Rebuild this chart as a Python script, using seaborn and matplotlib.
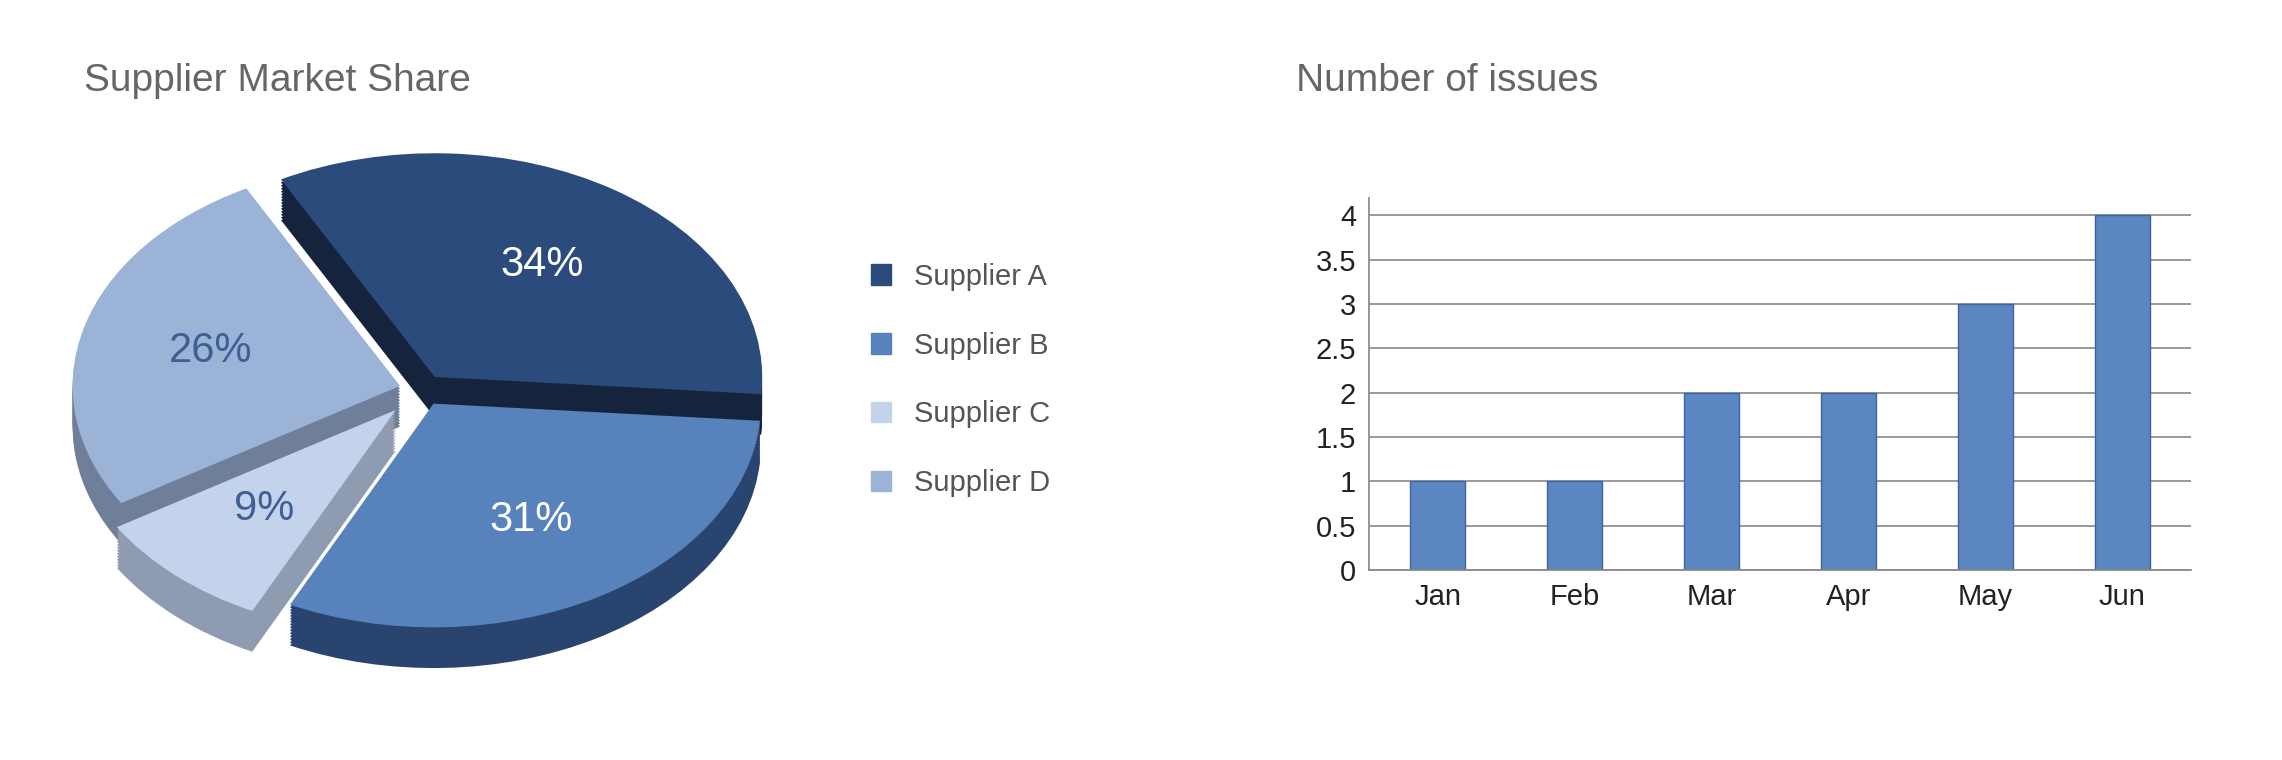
import numpy as np
import pandas as pd
import matplotlib
matplotlib.use("Agg")
import matplotlib.pyplot as plt
import seaborn as sns

suppliers = ["Supplier A", "Supplier B", "Supplier C", "Supplier D"]
shares = [34, 31, 9, 26]
months = ["Jan", "Feb", "Mar", "Apr", "May", "Jun"]
issues = [1, 1, 2, 2, 3, 4]

sns.set_theme(style="white")
plt.rcParams['font.family'] = ['Liberation Sans', 'DejaVu Sans']

top_cols = ["#2b4b7c", "#5882bb", "#c4d3ec", "#9cb3d8"]
side_cols = ["#15233d", "#2a4470", "#8e9bb0", "#6f7f99"]
label_cols = ["white", "white", "#3e5f94", "#3e5f94"]
explode = [0.07, 0.07, 0.12, 0.07]

fig = plt.figure(figsize=(22.82, 7.6), dpi=100)
ax1 = fig.add_axes([0.02, 0.06, 0.33, 0.78])
ax2 = fig.add_axes([0.60, 0.25, 0.36, 0.49])

# fake depth: stacked darker pies below the top face
for k in range(14, 0, -1):
    ax1.pie(shares, colors=side_cols, startangle=118, counterclock=False,
            explode=explode, center=(0, -0.013 * k), radius=1.0,
            wedgeprops=dict(linewidth=0))
wedges, texts, autotexts = ax1.pie(
    shares, colors=top_cols, startangle=118, counterclock=False,
    explode=explode, radius=1.0, autopct="%d%%", pctdistance=0.6,
    wedgeprops=dict(linewidth=0), textprops=dict(fontsize=30))
for t, c in zip(autotexts, label_cols):
    t.set_color(c)
ax1.set_aspect("auto")
ax1.set_xlim(-1.15, 1.15)
ax1.set_ylim(-1.45, 1.2)
fig.text(0.037, 0.88, "Supplier Market Share", fontsize=28, color="#666666")

handles = [plt.Rectangle((0, 0), 1, 1, color=c) for c in top_cols]
fig.legend(handles, suppliers, loc="center left", bbox_to_anchor=(0.37, 0.50),
           frameon=False, fontsize=21, labelcolor="#555555", labelspacing=1.4,
           handlelength=0.7, handleheight=0.7)

df = pd.DataFrame({"month": months, "issues": issues})
sns.barplot(data=df, x="month", y="issues", ax=ax2, color="#5b86c2",
            width=0.4, saturation=1, edgecolor="#3d64a0", linewidth=1)
ax2.set_ylim(0, 4.2)
ax2.set_yticks(np.arange(0, 4.01, 0.5))
ax2.set_yticklabels(["0", "0.5", "1", "1.5", "2", "2.5", "3", "3.5", "4"])
ax2.yaxis.grid(True, color="#888888", linewidth=1.2)
ax2.set_axisbelow(True)
ax2.set_xlabel("")
ax2.set_ylabel("")
ax2.tick_params(labelsize=21, colors="#222222")
for s in ["top", "right"]:
    ax2.spines[s].set_visible(False)
ax2.spines["left"].set_color("#888888")
ax2.spines["bottom"].set_color("#888888")
fig.text(0.568, 0.88, "Number of issues", fontsize=28, color="#666666")

fig.savefig("out.png", dpi=100)
